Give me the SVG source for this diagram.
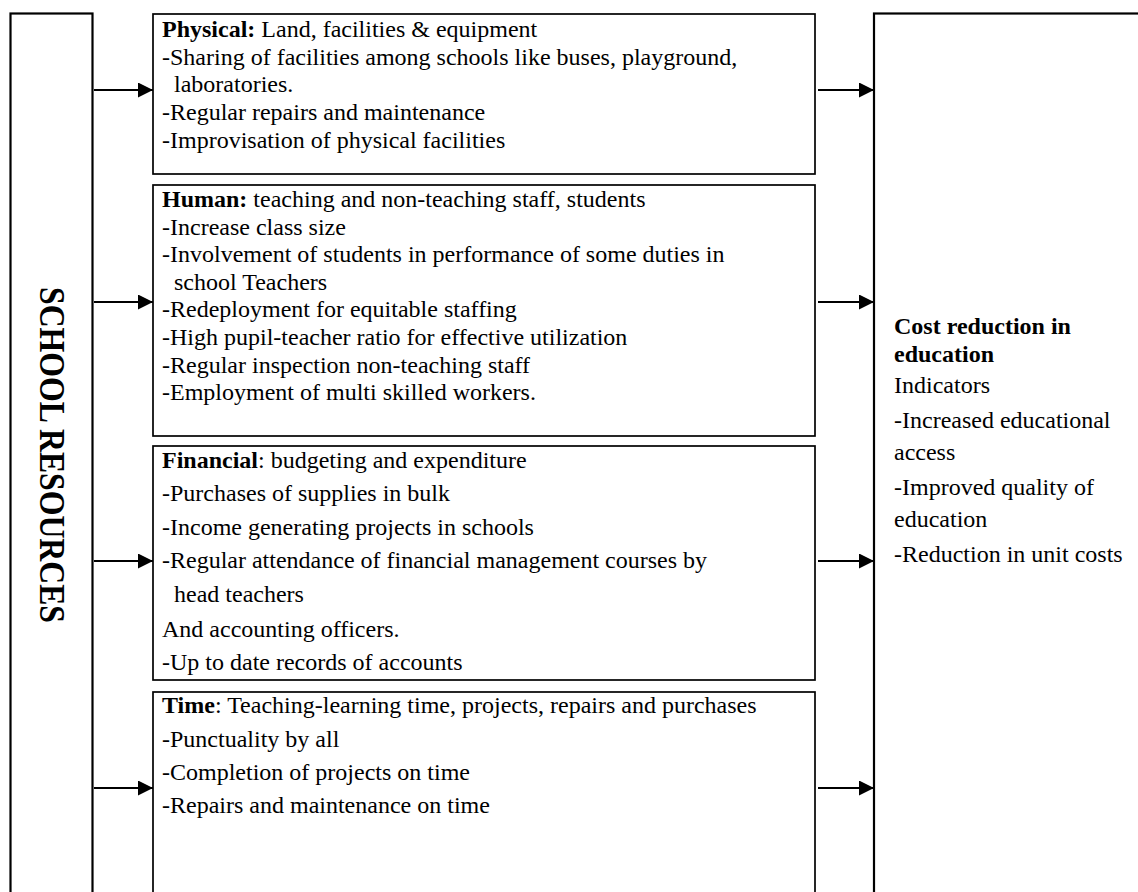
<svg xmlns="http://www.w3.org/2000/svg" width="1138" height="892" viewBox="0 0 1138 892">
<style>
.box{fill:#fff;stroke:#000;stroke-width:1.7}
.big{fill:#fff;stroke:#000;stroke-width:2.2}
.t{font-family:"Liberation Serif","Times New Roman",serif;font-size:24px;fill:#000}
.b{font-weight:bold}
.conn{stroke:#000;stroke-width:2.2;fill:none;marker-end:url(#ah)}
</style>
<defs>
<marker id="ah" markerUnits="userSpaceOnUse" markerWidth="16" markerHeight="16" refX="15" refY="7.5" orient="auto">
<path d="M0,0 L15,7.5 L0,15 z" fill="#000"/>
</marker>
</defs>
<rect width="1138" height="892" fill="#fff"/>
<g id="school-resources">
<rect class="big" x="10.5" y="13.5" width="82" height="900"/>
<text class="t b" transform="translate(40,287) rotate(90)" style="font-size:36px" textLength="336" lengthAdjust="spacingAndGlyphs">SCHOOL RESOURCES</text>
</g>
<g id="physical">
<rect class="box" x="153" y="14" width="662" height="160"/>
<text class="t" x="162" y="37"><tspan class="b">Physical:</tspan> Land, facilities &amp; equipment</text>
<text class="t" x="162" y="64.5">-Sharing of facilities among schools like buses, playground,</text>
<text class="t" x="174" y="92">laboratories.</text>
<text class="t" x="162" y="120">-Regular repairs and maintenance</text>
<text class="t" x="162" y="147.5">-Improvisation of physical facilities</text>
</g>
<g id="human">
<rect class="box" x="153" y="185" width="662" height="251"/>
<text class="t" x="162" y="207"><tspan class="b">Human:</tspan> teaching and non-teaching staff, students</text>
<text class="t" x="162" y="235">-Increase class size</text>
<text class="t" x="162" y="262">-Involvement of students in performance of some duties in</text>
<text class="t" x="174" y="290">school Teachers</text>
<text class="t" x="162" y="317">-Redeployment for equitable staffing</text>
<text class="t" x="162" y="345">-High pupil-teacher ratio for effective utilization</text>
<text class="t" x="162" y="373">-Regular inspection non-teaching staff</text>
<text class="t" x="162" y="400">-Employment of multi skilled workers.</text>
</g>
<g id="financial">
<rect class="box" x="153" y="446" width="662" height="234"/>
<text class="t" x="162" y="468"><tspan class="b">Financial</tspan>: budgeting and expenditure</text>
<text class="t" x="162" y="501">-Purchases of supplies in bulk</text>
<text class="t" x="162" y="535">-Income generating projects in schools</text>
<text class="t" x="162" y="568">-Regular attendance of financial management courses by</text>
<text class="t" x="174" y="602">head teachers</text>
<text class="t" x="162" y="637">And accounting officers.</text>
<text class="t" x="162" y="670">-Up to date records of accounts</text>
</g>
<g id="time">
<rect class="box" x="153" y="692" width="662" height="220"/>
<text class="t" x="162" y="713"><tspan class="b">Time</tspan>: Teaching-learning time, projects, repairs and purchases</text>
<text class="t" x="162" y="747">-Punctuality by all</text>
<text class="t" x="162" y="780">-Completion of projects on time</text>
<text class="t" x="162" y="813">-Repairs and maintenance on time</text>
</g>
<g id="cost-reduction">
<rect class="big" x="874" y="13.5" width="300" height="900"/>
<text class="t b" x="894" y="334">Cost reduction in</text>
<text class="t b" x="894" y="362">education</text>
<text class="t" x="894" y="393">Indicators</text>
<text class="t" x="894" y="428">-Increased educational</text>
<text class="t" x="894" y="460">access</text>
<text class="t" x="894" y="495">-Improved quality of</text>
<text class="t" x="894" y="527">education</text>
<text class="t" x="894" y="562">-Reduction in unit costs</text>
</g>
<g id="connectors">
<line class="conn" x1="94" y1="90" x2="153" y2="90"/>
<line class="conn" x1="94" y1="302" x2="153" y2="302"/>
<line class="conn" x1="94" y1="561" x2="153" y2="561"/>
<line class="conn" x1="94" y1="788" x2="153" y2="788"/>
<line class="conn" x1="818" y1="90" x2="874" y2="90"/>
<line class="conn" x1="818" y1="302" x2="874" y2="302"/>
<line class="conn" x1="818" y1="561" x2="874" y2="561"/>
<line class="conn" x1="818" y1="788" x2="874" y2="788"/>
</g>
</svg>
